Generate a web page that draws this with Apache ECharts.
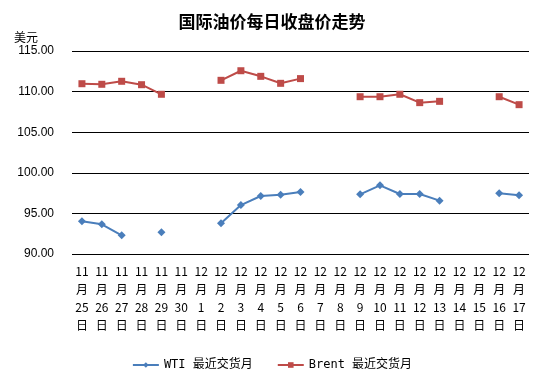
<!DOCTYPE html>
<html><head><meta charset="utf-8">
<script src="https://cdn.jsdelivr.net/npm/echarts@6/dist/echarts.min.js"></script>
<style>html,body{margin:0;padding:0;background:#fff}#c{width:544px;height:384px}</style>
</head><body><div id="c"></div>
<script>
var categories = ['11月25日','11月26日','11月27日','11月28日','11月29日','11月30日','12月1日','12月2日','12月3日','12月4日','12月5日','12月6日','12月7日','12月8日','12月9日','12月10日','12月11日','12月12日','12月13日','12月14日','12月15日','12月16日','12月17日'];
var wti = [94.03, 93.66, 92.30, null, 92.67, null, null, 93.78, 96.03, 97.14, 97.30, 97.64, null, null, 97.35, 98.46, 97.39, 97.39, 96.57, null, null, 97.48, 97.23];
var brent = [110.97, 110.90, 111.27, 110.85, 109.67, null, null, 111.39, 112.57, 111.88, 111.02, 111.60, null, null, 109.37, 109.37, 109.67, 108.64, 108.80, null, null, 109.37, 108.39];
var yTicks = {min: 90, max: 115, interval: 5};

var chart = echarts.init(document.getElementById('c'));
chart.setOption({
  animation: false,
  backgroundColor: '#fff',
  title: {text: '国际油价每日收盘价走势', left: 'center', top: 8,
    textStyle: {fontSize: 17, fontWeight: 'bold', color: '#000', fontFamily: 'Noto Sans CJK SC'}},
  legend: {bottom: 8, left: 'center', itemGap: 24, itemWidth: 26, itemHeight: 7,
    textStyle: {fontSize: 12, color: '#000', fontFamily: 'DejaVu Sans Mono, Noto Sans CJK SC'},
    data: ['WTI 最近交货月', 'Brent 最近交货月']},
  grid: {left: 72, right: 15, top: 51, bottom: 130},
  xAxis: {type: 'category', data: categories, boundaryGap: true,
    axisLine: {show: false}, axisTick: {show: false},
    axisLabel: {interval: 0, margin: 8, color: '#000', fontSize: 12, lineHeight: 18,
      fontFamily: 'Noto Sans CJK SC',
      formatter: function (v) { var m = v.match(/(\d+)月(\d+)日/); return m[1] + '\n月\n' + m[2] + '\n日'; }}},
  yAxis: {type: 'value', min: yTicks.min, max: yTicks.max, interval: yTicks.interval,
    name: '美元', nameLocation: 'end', nameGap: 8,
    nameTextStyle: {color: '#000', fontSize: 12, align: 'right', padding: [0, 34, 0, 0], fontFamily: 'Noto Sans CJK SC'},
    axisLine: {show: false}, axisTick: {show: false},
    splitLine: {lineStyle: {color: '#000', width: 1}},
    axisLabel: {color: '#000', fontSize: 12, margin: 18, fontFamily: 'Liberation Sans',
      formatter: function (v) { return v.toFixed(2); }}},
  series: [
    {name: 'WTI 最近交货月', type: 'line', data: wti, connectNulls: false,
      symbol: 'diamond', symbolSize: 8, showAllSymbol: true,
      lineStyle: {color: '#4a7ebb', width: 2}, itemStyle: {color: '#4a7ebb'}},
    {name: 'Brent 最近交货月', type: 'line', data: brent, connectNulls: false,
      symbol: 'rect', symbolSize: 7, showAllSymbol: true,
      lineStyle: {color: '#be4b48', width: 2}, itemStyle: {color: '#be4b48'}}
  ]
});
</script></body></html>
